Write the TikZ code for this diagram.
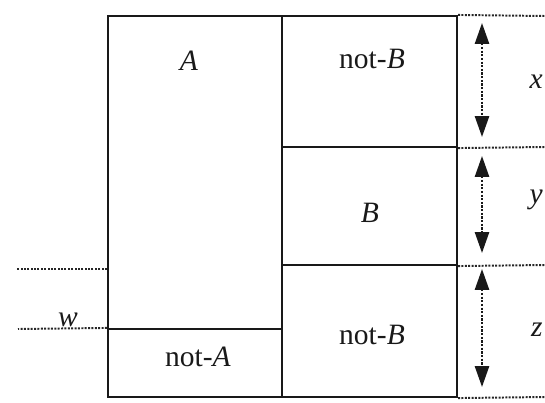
\documentclass[tikz,border=0pt]{standalone}
\usepackage{fontspec}
\setmainfont{Liberation Serif}
\usepackage{tikz}
\usetikzlibrary{arrows.meta,fit}
\tikzset{
  base/.style={font=\fontsize{21}{24}\selectfont, inner sep=0pt, text=black!90},
  cell/.style={rectangle, draw=black!90, line width=1.5pt, inner sep=0pt},
  guide/.style={densely dotted, line width=1.4pt, draw=black!85},
  span/.style={{Triangle[length=5.2mm,width=3.5mm]}-{Triangle[length=5.2mm,width=3.5mm]}, densely dotted, line width=1.6pt, draw=black!90},
}
\begin{document}
\begin{tikzpicture}[x=0.025cm,y=-0.025cm]
  \useasboundingbox (0,0) rectangle (545,402);
  % cells
  \node[cell,fit={(108,16) (282,329)}] (cA) {};
  \node[cell,fit={(108,329) (282,397)}] (cnotA) {};
  \node[cell,fit={(282,16) (457,147)}] (cnotBx) {};
  \node[cell,fit={(282,147) (457,265)}] (cB) {};
  \node[cell,fit={(282,265) (457,397)}] (cnotBz) {};
  % cell labels
  \node[base] (lA) at (189,61) {\textit{A}};
  \node[base] (lnotA) at (198,357) {not-\textit{A}};
  \node[base] (lnotBx) at (372,59) {not-\textit{B}};
  \node[base] (lB) at (370,213) {\textit{B}};
  \node[base] (lnotBz) at (372,335) {not-\textit{B}};
  % guide lines
  \foreach \n/\y in {g1/16,g2/147,g3/265,g4/397}{\coordinate (\n) at (545,\y);}
  \draw[guide] (cnotBx.north east) -- (g1);
  \draw[guide] (cnotBx.south east) -- (g2);
  \draw[guide] (cB.south east) -- (g3);
  \draw[guide] (cnotBz.south east) -- (g4);
  \coordinate (gl) at (17,269);
  \coordinate (gw) at (18,329);
  \draw[guide] (cA.west |- gl) -- (gl);
  \draw[guide] (cnotA.north west) -- (gw);
  \node[base] (lw) at (68,320) {\textit{w}};
  % spans
  \foreach \n/\a/\b in {x/23/137,y/156/253,z/269/387}{
    \coordinate (\n t) at (482,\a);
    \coordinate (\n b) at (482,\b);
    \draw[span] (\n t) -- (\n b);
  }
  \node[base,anchor=east] (lx) at (543,82) {\textit{x}};
  \node[base,anchor=east] (ly) at (543,200) {\textit{y}};
  \node[base,anchor=east] (lz) at (543,330) {\textit{z}};
\end{tikzpicture}
\end{document}
